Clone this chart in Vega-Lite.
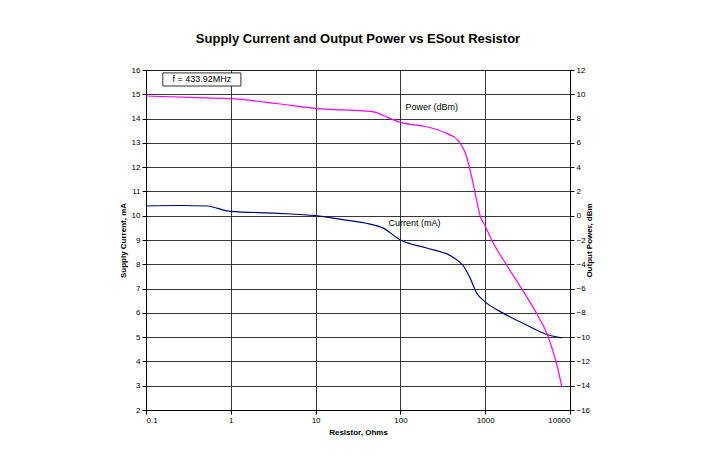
{
  "$schema": "https://vega.github.io/schema/vega-lite/v6.json",
  "width": 424,
  "height": 340,
  "autosize": {"type": "none"},
  "padding": {"left": 146, "top": 70, "right": 137, "bottom": 55},
  "background": "white",
  "title": {
    "text": "Supply Current and Output Power vs ESout Resistor",
    "font": "Liberation Sans",
    "fontSize": 13,
    "fontWeight": "bold",
    "color": "black",
    "offset": 20
  },
  "datasets": {
    "current": [
      {"x": 0.1, "y": 10.40},
      {"x": 0.25, "y": 10.42},
      {"x": 0.54, "y": 10.40},
      {"x": 0.7, "y": 10.30},
      {"x": 0.9, "y": 10.20},
      {"x": 1, "y": 10.18},
      {"x": 3.6, "y": 10.10},
      {"x": 10, "y": 10.00},
      {"x": 20, "y": 9.85},
      {"x": 38, "y": 9.70},
      {"x": 62, "y": 9.50},
      {"x": 100, "y": 9.00},
      {"x": 204, "y": 8.67},
      {"x": 413, "y": 8.30},
      {"x": 542, "y": 7.97},
      {"x": 655, "y": 7.48},
      {"x": 792, "y": 6.82},
      {"x": 1000, "y": 6.45},
      {"x": 1603, "y": 6.00},
      {"x": 3073, "y": 5.50},
      {"x": 5430, "y": 5.10},
      {"x": 8000, "y": 4.97}
    ],
    "power": [
      {"x": 0.1, "p": 9.86},
      {"x": 0.785, "p": 9.67},
      {"x": 1, "p": 9.64},
      {"x": 3.6, "p": 9.22},
      {"x": 10, "p": 8.84},
      {"x": 38, "p": 8.62},
      {"x": 47, "p": 8.57},
      {"x": 75, "p": 8.02},
      {"x": 100, "p": 7.69},
      {"x": 204, "p": 7.33},
      {"x": 351, "p": 6.78},
      {"x": 473, "p": 6.23},
      {"x": 604, "p": 4.86},
      {"x": 692, "p": 3.21},
      {"x": 792, "p": 1.29},
      {"x": 871, "p": 0.0},
      {"x": 1000, "p": -0.85},
      {"x": 1222, "p": -2.14},
      {"x": 1786, "p": -4.06},
      {"x": 2754, "p": -6.12},
      {"x": 4140, "p": -8.18},
      {"x": 5430, "p": -9.83},
      {"x": 6050, "p": -10.79},
      {"x": 6920, "p": -12.13},
      {"x": 8000, "p": -14.1}
    ],
    "box": [
      {"x": 0.158, "x2": 1.315, "y": 15.88, "y2": 15.34, "label": "f = 433.92MHz", "xc": 0.457, "yc": 15.61}
    ],
    "labels": [
      {"x": 234, "y": 14.48, "label": "Power (dBm)"},
      {"x": 147, "y": 9.7, "label": "Current (mA)"}
    ]
  },
  "layer": [
    {
      "layer": [
        {
          "data": {"name": "current"},
          "mark": {"type": "line", "color": "#000080", "strokeWidth": 1.2, "interpolate": "monotone"},
          "encoding": {
            "x": {
              "field": "x", "type": "quantitative",
              "scale": {"type": "log", "domain": [0.1, 10000]},
              "axis": {"values": [0.1, 1, 10, 100, 1000, 10000], "format": "~g", "title": "Resistor, Ohms", "grid": true, "titlePadding": 4}
            },
            "y": {
              "field": "y", "type": "quantitative",
              "scale": {"domain": [2, 16], "nice": false, "zero": false},
              "axis": {"values": [2,3,4,5,6,7,8,9,10,11,12,13,14,15,16], "labelOverlap": false, "title": "Supply Current, mA", "grid": true, "orient": "left", "titlePadding": 4}
            }
          }
        },
        {
          "data": {"name": "box"},
          "mark": {"type": "rect", "fill": "white", "stroke": "#333333", "strokeWidth": 1},
          "encoding": {
            "x": {"field": "x", "type": "quantitative"},
            "x2": {"field": "x2"},
            "y": {
              "field": "y", "type": "quantitative",
              "axis": {"values": [2,3,4,5,6,7,8,9,10,11,12,13,14,15,16], "labelOverlap": false, "title": "Supply Current, mA", "grid": true, "orient": "left", "titlePadding": 4}
            },
            "y2": {"field": "y2"}
          }
        },
        {
          "data": {"name": "box"},
          "mark": {"type": "text", "font": "Liberation Sans", "fontSize": 9, "color": "black", "align": "center", "baseline": "middle"},
          "encoding": {
            "x": {"field": "xc", "type": "quantitative"},
            "y": {
              "field": "yc", "type": "quantitative",
              "axis": {"values": [2,3,4,5,6,7,8,9,10,11,12,13,14,15,16], "labelOverlap": false, "title": "Supply Current, mA", "grid": true, "orient": "left", "titlePadding": 4}
            },
            "text": {"field": "label"}
          }
        },
        {
          "data": {"name": "labels"},
          "mark": {"type": "text", "font": "Liberation Sans", "fontSize": 9, "color": "black", "align": "center", "baseline": "middle"},
          "encoding": {
            "x": {"field": "x", "type": "quantitative"},
            "y": {
              "field": "y", "type": "quantitative",
              "axis": {"values": [2,3,4,5,6,7,8,9,10,11,12,13,14,15,16], "labelOverlap": false, "title": "Supply Current, mA", "grid": true, "orient": "left", "titlePadding": 4}
            },
            "text": {"field": "label"}
          }
        }
      ]
    },
    {
      "data": {"name": "power"},
      "mark": {"type": "line", "color": "#FF00FF", "strokeWidth": 1.2, "interpolate": "monotone"},
      "encoding": {
        "x": {"field": "x", "type": "quantitative"},
        "y": {
          "field": "p", "type": "quantitative",
          "scale": {"domain": [-16, 12], "nice": false, "zero": false},
          "axis": {"values": [-16,-14,-12,-10,-8,-6,-4,-2,0,2,4,6,8,10,12], "labelOverlap": false, "title": "Output Power, dBm", "grid": false, "orient": "right", "titleAngle": 270, "titlePadding": 4}
        }
      }
    }
  ],
  "resolve": {"scale": {"y": "independent"}},
  "config": {
    "view": {"stroke": "black", "strokeWidth": 1},
    "axis": {
      "domainColor": "black",
      "tickColor": "black",
      "tickSize": 4,
      "gridColor": "#222222",
      "gridOpacity": 0.9,
      "labelFont": "Liberation Sans",
      "labelFontSize": 8,
      "labelColor": "black",
      "labelPadding": 2,
      "titleFont": "Liberation Sans",
      "titleFontSize": 8,
      "titleFontWeight": "bold",
      "titleColor": "black"
    }
  }
}
